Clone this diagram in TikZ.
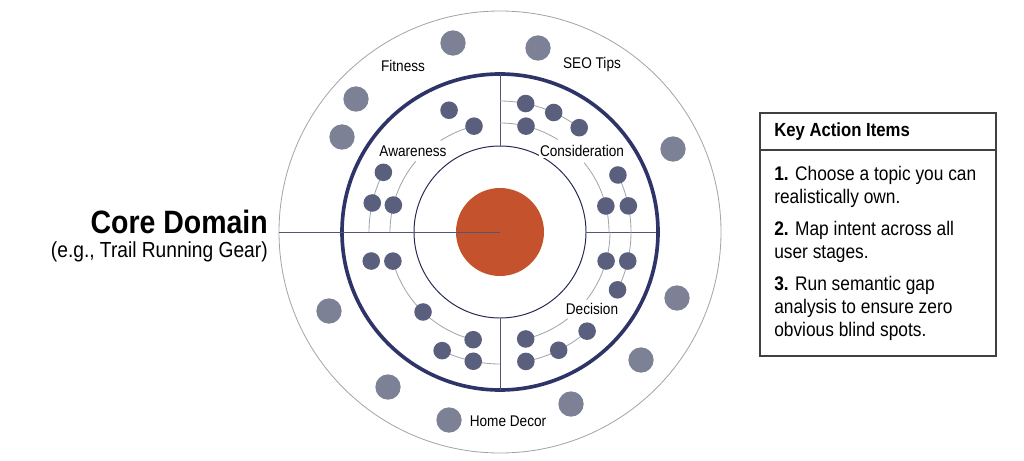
\documentclass[tikz,border=0pt]{standalone}
\usepackage{fontspec}
\setmainfont{Liberation Sans}[FakeStretch=0.88]
\definecolor{navy}{HTML}{2E3468}
\definecolor{dotblue}{HTML}{5B5F7E}
\definecolor{dotgray}{HTML}{7C8196}
\definecolor{core}{HTML}{C4522D}
\definecolor{linegray}{HTML}{A4A6AE}
\tikzset{
    sdot/.style={circle, fill=dotblue, inner sep=0pt, minimum size=12.5},
    bdot/.style={circle, fill=dotgray, inner sep=0pt, minimum size=18},
    link/.style={draw=linegray, line width=0.6pt},
    ring/.style={draw=linegray, line width=0.6pt},
    axis/.style={draw=navy!55!gray, line width=0.55pt},
    lbl/.style={font=\fontsize{11}{13}\selectfont, inner sep=1pt, fill=white}
}
\begin{document}
\begin{tikzpicture}[x=0.025cm, y=-0.025cm]

            % the frame
            \useasboundingbox (0,0) rectangle (1024,460);

            % the rings
            \coordinate (c) at (500,232);
            \draw[ring] (c) circle[radius=221];
            \draw[navy, line width=2.6pt] (c) circle[radius=158];
            \draw[draw=navy!80!black, line width=0.7pt] (c) circle[radius=86];
            \draw[axis] (500,74) -- (500,146);
            \draw[axis] (500,318) -- (500,390);
            \draw[axis] (586,232) -- (656,232);
            \fill[core] (c) circle[radius=44];
            \draw[axis] (279,232) -- (c);

            % the outer topics
            \foreach \x/\y [count=\i] in {453/43, 538/48, 356/99, 342/137, 673/149, 329/311,
                                         677/298, 641/360, 388/387, 449/420, 571/404} {
                \node[bdot] (o\i) at (\x,\y) {};
            }

            % awareness
            \draw[link] ([shift={(-103.8:109)}]c) arc[start angle=-103.8, end angle=-123, radius=109];
            \draw[link] ([shift={(-152.9:131)}]c) arc[start angle=-152.9, end angle=-180, radius=131];
            \draw[link] ([shift={(-140:110)}]c) arc[start angle=-140, end angle=-180, radius=110];
            \node[sdot] (a1) at ([shift={(-112.7:132)}]c) {};
            \node[sdot] (a2) at ([shift={(-103.8:109)}]c) {};
            \node[sdot] (a3) at ([shift={(-152.9:131)}]c) {};
            \node[sdot] (a4) at ([shift={(-167.2:131)}]c) {};
            \node[sdot] (a5) at ([shift={(-165.8:110)}]c) {};

            % consideration
            \draw[link] ([shift={(-90:131)}]c) arc[start angle=-90, end angle=-52.8, radius=131];
            \draw[link] ([shift={(-90:109)}]c) arc[start angle=-90, end angle=-58, radius=109];
            \draw[link] ([shift={(-25.8:131)}]c) arc[start angle=-25.8, end angle=0, radius=131];
            \draw[link] ([shift={(-39.5:109)}]c) arc[start angle=-39.5, end angle=0, radius=109];
            \foreach \a/\r [count=\i] in {-78.7/131, -65.8/131, -52.8/131, -76.2/109,
                                          -25.8/131, -11.5/131, -13.8/109} {
                \node[sdot] (b\i) at ([shift={(\a:\r)}]c) {};
            }

            % decision
            \draw[link] ([shift={(0:131)}]c) arc[start angle=0, end angle=26.2, radius=131];
            \draw[link] ([shift={(0:110)}]c) arc[start angle=0, end angle=38, radius=110];
            \draw[link] ([shift={(52:110)}]c) arc[start angle=52, end angle=76.5, radius=110];
            \draw[link] ([shift={(48.7:132)}]c) arc[start angle=48.7, end angle=78.7, radius=132];
            \foreach \a/\r [count=\i] in {12.8/131, 26.2/131, 15.3/110, 76.5/110,
                                          48.7/132, 63.6/132, 78.7/132} {
                \node[sdot] (d\i) at ([shift={(\a:\r)}]c) {};
            }

            % retention
            \draw[link] ([shift={(164.8:111)}]c) arc[start angle=164.8, end angle=104, radius=111];
            \draw[link] ([shift={(116:132)}]c) arc[start angle=116, end angle=90, radius=132];
            \foreach \a/\r [count=\i] in {167.3/132, 164.8/111, 133.9/111, 104/111,
                                          116/132, 101.7/132} {
                \node[sdot] (e\i) at ([shift={(\a:\r)}]c) {};
            }

            % the labels
            \node[lbl] (fit) at (403,66) {Fitness};
            \node[lbl] (seo) at (592,64) {SEO Tips};
            \node[lbl] (awa) at (413,151) {Awareness};
            \node[lbl] (con) at (582,151) {Consideration};
            \node[lbl, fill=none] (dec) at (592,309) {Decision};
            \node[lbl] (hom) at (508,421) {Home Decor};

            % core domain
            \node[anchor=east, inner sep=0pt, font=\fontsize{23}{27}\bfseries\selectfont] (cd) at (268,222) {Core Domain};
            \node[anchor=east, inner sep=0pt, font=\fontsize{15.5}{18}\selectfont] (eg) at (268,252) {(e.g., Trail Running Gear)};

            % key action items
            \draw[line width=0.8pt, draw=black!75] (760,113) rectangle (996,356);
            \draw[line width=0.8pt, draw=black!75] (760,150) -- (996,150);
            \node[anchor=west, inner sep=0pt, font=\fontsize{13.5}{16}\bfseries\selectfont] (key) at (774,132) {Key Action Items};
            \node[anchor=north west, inner sep=0pt, align=left, font=\fontsize{14}{16.5}\selectfont] (k1) at (774,166)
                {\textbf{1.} Choose a topic you can\\realistically own.};
            \node[anchor=north west, inner sep=0pt, align=left, font=\fontsize{14}{16.5}\selectfont] (k2) at (774,221)
                {\textbf{2.} Map intent across all\\user stages.};
            \node[anchor=north west, inner sep=0pt, align=left, font=\fontsize{14}{16.5}\selectfont] (k3) at (774,276)
                {\textbf{3.} Run semantic gap\\analysis to ensure zero\\obvious blind spots.};
        \end{tikzpicture}
\end{document}
